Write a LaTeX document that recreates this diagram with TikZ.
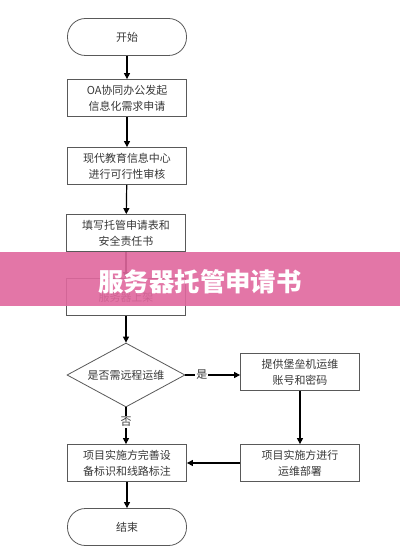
\documentclass[tikz,border=0pt]{standalone}
\usepackage{fontspec}
\setmainfont{Noto Sans CJK SC}
\newfontfamily\cjk{Noto Sans CJK SC}
\usetikzlibrary{shapes.geometric,arrows.meta}
\begin{document}
\begin{tikzpicture}[x=1bp,y=-1bp,
  box/.style={draw=black!65,line width=0.8bp,fill=white,minimum width=119bp,minimum height=37bp,inner sep=1bp,align=center,font=\cjk\fontsize{11}{16}\selectfont,text=black!78},
  term/.style={box,rounded corners=18bp,minimum height=37bp},
  dec/.style={draw=black!65,line width=0.8bp,fill=white,diamond,aspect=1.85,minimum width=118bp,minimum height=64bp,inner sep=0pt,font=\cjk\fontsize{11}{14}\selectfont,text=black!78},
  arr/.style={draw=black,line width=1.2bp,-{Triangle[length=6bp,width=6bp]}},
  lab/.style={font=\cjk\fontsize{11}{12}\selectfont,text=black!78,fill=white,inner sep=1bp}]
\useasboundingbox (0,0) rectangle (400,560);
\fill[white] (0,0) rectangle (400,560);
\node[term] (start) at (127,37) {开始};
\node[box] (b1) at (127,98) {OA协同办公发起\\信息化需求申请};
\node[box] (b2) at (127,166) {现代教育信息中心\\进行可行性审核};
\node[box] (b3) at (126,233) {填写托管申请表和\\安全责任书};
\node[box] (b4) at (126,297) {服务器上架};
\node[dec] (d) at (126,375) {是否需远程运维};
\node[box] (b5) at (300,372) {提供堡垒机运维\\账号和密码};
\node[box] (b7) at (300,463) {项目实施方进行\\运维部署};
\node[box] (b6) at (127,463) {项目实施方完善设\\备标识和线路标注};
\node[term] (end) at (127,527) {结束};
\draw[arr] (start) -- (b1);
\draw[arr] (b1) -- (b2);
\draw[arr] (b2) -- (b3);
\draw[arr] (b3) -- (b4);
\draw[arr] (b4) -- (d);
\draw[arr] (d.east) -- node[lab,pos=0.3] {是} (b5.west |- d.east);
\draw[arr] (d.south) -- node[lab,pos=0.4] {否} (b6.north -| d.south);
\draw[arr] (b5) -- (b7);
\draw[arr] (b7) -- (b6);
\draw[arr] (b6) -- (end);
\fill[fill={rgb,255:red,224;green,104;blue,158},fill opacity=0.9] (0,252) rectangle (400,306);
\node[font=\cjk\bfseries\fontsize{25.5}{28}\selectfont,text=white] (title) at (200,282) {服务器托管申请书};
\end{tikzpicture}
\end{document}
